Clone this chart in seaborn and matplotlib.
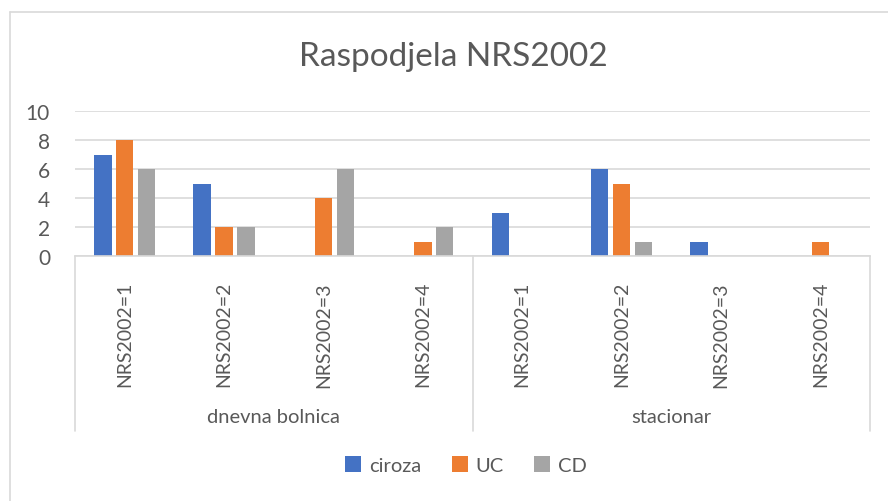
import matplotlib
matplotlib.use("Agg")
import matplotlib.pyplot as plt
import matplotlib.transforms as mtransforms
from matplotlib.patches import Patch
from matplotlib.lines import Line2D
import seaborn as sns
import pandas as pd

groups = ["dnevna bolnica", "stacionar"]
levels = ["NRS2002=1", "NRS2002=2", "NRS2002=3", "NRS2002=4"]
series = ["ciroza", "UC", "CD"]
ciroza = [7, 5, 0, 0, 3, 6, 1, 0]
uc = [8, 2, 4, 1, 0, 5, 0, 1]
cd = [6, 2, 6, 2, 0, 1, 0, 0]
colors = ["#4472C4", "#ED7D31", "#A5A5A5"]

cats = [f"{g}|{l}" for g in groups for l in levels]
rows = []
for s, vals in zip(series, [ciroza, uc, cd]):
    for c, v in zip(cats, vals):
        rows.append({"cat": c, "series": s, "value": v})
df = pd.DataFrame(rows)

sns.set_theme(style="white")
plt.rcParams["font.family"] = ["Lato", "DejaVu Sans"]
txt = "#595959"

fig = plt.figure(figsize=(8.88, 5.02), dpi=100)
ax = fig.add_axes([75/888, 1-257/502, (870-75)/888, 145/502])
sns.barplot(data=df, x="cat", y="value", hue="series", order=cats,
            hue_order=series, palette=colors, width=0.66, gap=0.2,
            ax=ax, legend=False, saturation=1, linewidth=0)

ax.set_ylim(0, 10)
ax.set_xlim(-0.5, len(cats) - 0.5)
ax.set_yticks([0, 2, 4, 6, 8, 10])
ax.yaxis.grid(True, color="#D9D9D9", linewidth=1.2)
ax.set_axisbelow(True)
for sp in ["top", "right", "left"]:
    ax.spines[sp].set_visible(False)
ax.spines["bottom"].set_color("#D9D9D9")
ax.spines["bottom"].set_linewidth(1.2)
ax.set_xlabel("")
ax.set_ylabel("")
ax.tick_params(axis="y", labelsize=15, labelcolor=txt, length=0, pad=18)
ax.set_xticks(range(len(cats)))
ax.set_xticklabels([c.split("|")[1] for c in cats], rotation=90,
                   fontsize=14, color=txt)
ax.tick_params(axis="x", length=0, pad=18)

trans = mtransforms.blended_transform_factory(ax.transData, ax.transAxes)
for xpos in [-0.5, 3.5, 7.5]:
    ax.add_line(Line2D([xpos, xpos], [0, -1.207], transform=trans,
                       color="#D9D9D9", linewidth=1.2, clip_on=False))
for i, g in enumerate(groups):
    ax.text(i * 4 + 1.5, -1.105, g, transform=trans, ha="center",
            va="center", fontsize=14.5, color=txt)

fig.text(0.51, 1 - 57/502, "Raspodjela NRS2002", ha="center", va="center",
         fontsize=24, color=txt)

handles = [Patch(facecolor=c, edgecolor="none") for c in colors]
fig.legend(handles, series, loc="center", bbox_to_anchor=(0.525, 1 - 466/502),
           ncol=3, frameon=False, fontsize=14.5, labelcolor=txt,
           handlelength=0.8, handleheight=0.8, handletextpad=0.4,
           columnspacing=1.5)

fig.add_artist(Line2D([10/888, 1.0], [1 - 13/502, 1 - 13/502],
                      transform=fig.transFigure, color="#D9D9D9", linewidth=1.2))
fig.add_artist(Line2D([10/888, 10/888], [0, 1 - 13/502],
                      transform=fig.transFigure, color="#D9D9D9", linewidth=1.2))

fig.savefig("out.png", dpi=100)
